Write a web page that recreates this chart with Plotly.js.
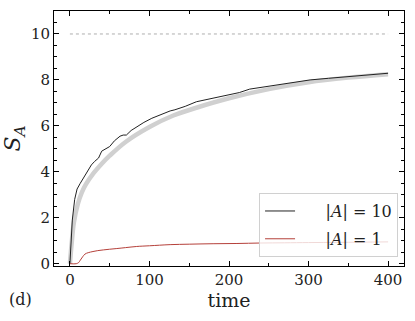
<!DOCTYPE html>
<html>
<head>
<meta charset="utf-8">
<script src="https://cdn.plot.ly/plotly-3.0.1.min.js"></script>
<style>
  html, body { margin: 0; padding: 0; background: #fff; }
  #chart { width: 415px; height: 321px; }
</style>
</head>
<body>
<div id="chart"></div>
<script>
// |A| = 10 run (black, noisy)
let blackT = [0, 1, 3, 6, 9, 13, 18, 23, 27, 31, 36, 40, 45, 50, 56, 63, 67, 71, 77, 84, 93, 103, 111, 119, 126, 132, 145, 159, 172, 186, 200, 213, 226, 245, 264, 283, 302, 325, 348, 375, 400];
let blackV = [0, 0.9, 1.9, 2.8, 3.25, 3.5, 3.8, 4.1, 4.3, 4.45, 4.6, 4.9, 5.0, 5.1, 5.35, 5.55, 5.6, 5.6, 5.8, 5.97, 6.15, 6.33, 6.45, 6.55, 6.65, 6.7, 6.85, 7.05, 7.15, 7.25, 7.35, 7.45, 7.6, 7.7, 7.83, 7.92, 8.0, 8.07, 8.14, 8.22, 8.29];

// smooth grey band under the black curve
let grayT = [0, 2, 5, 10, 15, 20, 30, 40, 50, 70, 100, 130, 160, 200, 250, 300, 350, 400];
let grayV = [0, 0.8, 1.8, 2.6, 3.1, 3.45, 3.95, 4.35, 4.7, 5.3, 5.95, 6.45, 6.8, 7.2, 7.6, 7.9, 8.1, 8.25];

// |A| = 1 run (red)
let redT = [0, 8, 11, 13, 16, 19, 23, 29, 35, 42, 50, 59, 70, 84, 100, 126, 150, 180, 210, 239, 270, 300, 340, 400];
let redV = [0, 0, 0.05, 0.15, 0.3, 0.42, 0.48, 0.53, 0.57, 0.6, 0.63, 0.66, 0.7, 0.75, 0.78, 0.83, 0.85, 0.87, 0.88, 0.9, 0.91, 0.92, 0.93, 0.95];

// saturation level
let limitT = [0, 400];
let limitV = [10, 10];

let serif = "DejaVu Serif";
let pad = '&nbsp;&nbsp;&nbsp;&nbsp;&nbsp;';

let limit = {
    x: limitT, y: limitV, mode: 'lines', showlegend: false, hoverinfo: 'skip',
    line: {color: '#999999', width: 0.8, dash: 'dot'}
};

let band = {
    x: grayT, y: grayV, mode: 'lines', showlegend: false, hoverinfo: 'skip',
    line: {color: '#d0d0d0', width: 4.5, shape: 'spline'}
};

let big = {
    x: blackT, y: blackV, mode: 'lines', name: pad + '|<i>A</i>| = 10', legendgroup: 'a',
    line: {color: '#222222', width: 1}
};

let small = {
    x: redT, y: redV, mode: 'lines', name: pad + '|<i>A</i>| = 1', legendgroup: 'b',
    line: {color: '#b5403a', width: 1, shape: 'spline'}
};

let axisCommon = {
    showgrid: false, zeroline: false,
    showline: true, linecolor: '#000', linewidth: 1,
    mirror: 'allticks', ticks: 'inside', ticklen: 5, tickwidth: 1, tickcolor: '#000',
    tickfont: {family: serif, size: 15, color: '#222'}
};

let layout = {
    width: 415, height: 321,
    margin: {l: 54, r: 11, t: 11, b: 55},
    paper_bgcolor: '#fff', plot_bgcolor: '#fff',
    font: {family: serif, color: '#222'},
    xaxis: Object.assign({}, axisCommon, {
        range: [-20, 420], tickvals: [0, 100, 200, 300, 400],
        minor: {tickvals: [50, 150, 250, 350], ticks: 'inside', ticklen: 3, tickcolor: '#000'},
        title: {text: 'time', font: {family: serif, size: 19, color: '#222'}, standoff: 3}
    }),
    yaxis: Object.assign({}, axisCommon, {
        range: [-0.1, 11], tickvals: [0, 2, 4, 6, 8, 10],
        minor: {dtick: 0.5, ticks: 'inside', ticklen: 3, tickcolor: '#000'},
        title: {text: '<i>S</i><sub><i>A</i></sub>', font: {family: serif, size: 22, color: '#222'}, standoff: 9}
    }),
    legend: {
        x: 0.983, xanchor: 'right', y: 0.035, yanchor: 'bottom',
        bgcolor: 'rgba(255,255,255,0.8)', bordercolor: '#d0d0d0', borderwidth: 1,
        font: {family: serif, size: 16, color: '#222'},
        tracegroupgap: 4
    },
    annotations: [{
        text: '(d)', xref: 'paper', yref: 'paper', x: -0.097, y: -0.133,
        xanchor: 'center', yanchor: 'middle', showarrow: false,
        font: {family: serif, size: 16, color: '#222'}
    }]
};

Plotly.newPlot('chart', [limit, band, big, small], layout, {displayModeBar: false, staticPlot: true});
</script>
</body>
</html>
